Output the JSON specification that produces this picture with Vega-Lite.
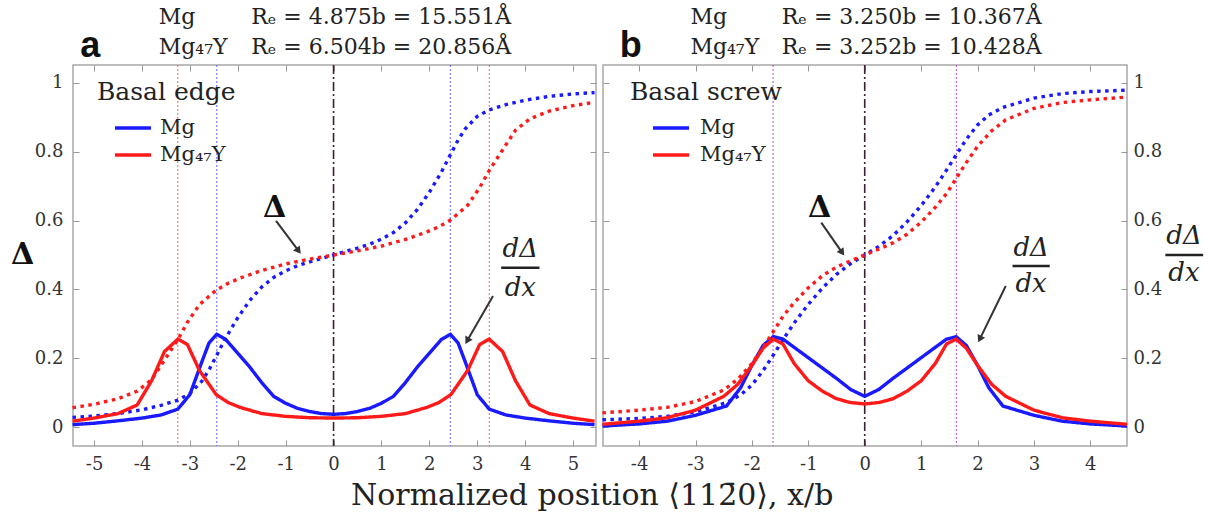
{
  "$schema": "https://vega.github.io/schema/vega-lite/v6.json",
  "padding": {"left": 10, "top": 5, "right": 5, "bottom": 5},
  "background": "white",
  "bounds": "flush",
  "spacing": 7,
  "config": {
    "view": {"stroke": "#a8a8a8", "strokeWidth": 1.5},
    "axis": {"domain": false, "grid": false, "tickSize": -6, "tickColor": "#9a9a9a", "tickWidth": 1, "labelFont": "DejaVu Serif", "labelFontSize": 18, "labelColor": "#333333"},
    "legend": {"padding": 0}
  },
  "datasets": {
    "curves": [
      {"panel":"a","alloy":"Mg","qty":"Δ","x":-5.45,"y":0.029},{"panel":"a","alloy":"Mg","qty":"Δ","x":-5,"y":0.033},{"panel":"a","alloy":"Mg","qty":"Δ","x":-4.5,"y":0.040},{"panel":"a","alloy":"Mg","qty":"Δ","x":-4,"y":0.051},{"panel":"a","alloy":"Mg","qty":"Δ","x":-3.6,"y":0.064},{"panel":"a","alloy":"Mg","qty":"Δ","x":-3.25,"y":0.079},{"panel":"a","alloy":"Mg","qty":"Δ","x":-3,"y":0.098},{"panel":"a","alloy":"Mg","qty":"Δ","x":-2.75,"y":0.134},{"panel":"a","alloy":"Mg","qty":"Δ","x":-2.6,"y":0.167},{"panel":"a","alloy":"Mg","qty":"Δ","x":-2.44,"y":0.209},{"panel":"a","alloy":"Mg","qty":"Δ","x":-2.25,"y":0.26},{"panel":"a","alloy":"Mg","qty":"Δ","x":-2,"y":0.318},{"panel":"a","alloy":"Mg","qty":"Δ","x":-1.75,"y":0.368},{"panel":"a","alloy":"Mg","qty":"Δ","x":-1.5,"y":0.407},{"panel":"a","alloy":"Mg","qty":"Δ","x":-1.25,"y":0.435},{"panel":"a","alloy":"Mg","qty":"Δ","x":-1,"y":0.454},{"panel":"a","alloy":"Mg","qty":"Δ","x":-0.75,"y":0.469},{"panel":"a","alloy":"Mg","qty":"Δ","x":-0.5,"y":0.48},{"panel":"a","alloy":"Mg","qty":"Δ","x":-0.25,"y":0.49},{"panel":"a","alloy":"Mg","qty":"Δ","x":0,"y":0.5},{"panel":"a","alloy":"Mg","qty":"Δ","x":0.25,"y":0.51},{"panel":"a","alloy":"Mg","qty":"Δ","x":0.5,"y":0.52},{"panel":"a","alloy":"Mg","qty":"Δ","x":0.75,"y":0.531},{"panel":"a","alloy":"Mg","qty":"Δ","x":1,"y":0.546},{"panel":"a","alloy":"Mg","qty":"Δ","x":1.25,"y":0.565},{"panel":"a","alloy":"Mg","qty":"Δ","x":1.5,"y":0.593},{"panel":"a","alloy":"Mg","qty":"Δ","x":1.75,"y":0.632},{"panel":"a","alloy":"Mg","qty":"Δ","x":2,"y":0.682},{"panel":"a","alloy":"Mg","qty":"Δ","x":2.25,"y":0.74},{"panel":"a","alloy":"Mg","qty":"Δ","x":2.44,"y":0.791},{"panel":"a","alloy":"Mg","qty":"Δ","x":2.6,"y":0.833},{"panel":"a","alloy":"Mg","qty":"Δ","x":2.75,"y":0.866},{"panel":"a","alloy":"Mg","qty":"Δ","x":3,"y":0.902},{"panel":"a","alloy":"Mg","qty":"Δ","x":3.25,"y":0.921},{"panel":"a","alloy":"Mg","qty":"Δ","x":3.6,"y":0.936},{"panel":"a","alloy":"Mg","qty":"Δ","x":4,"y":0.949},{"panel":"a","alloy":"Mg","qty":"Δ","x":4.5,"y":0.96},{"panel":"a","alloy":"Mg","qty":"Δ","x":5,"y":0.967},{"panel":"a","alloy":"Mg","qty":"Δ","x":5.45,"y":0.971},
      {"panel":"a","alloy":"Mg","qty":"dΔ/dx","x":-5.45,"y":0.008},{"panel":"a","alloy":"Mg","qty":"dΔ/dx","x":-5,"y":0.012},{"panel":"a","alloy":"Mg","qty":"dΔ/dx","x":-4.5,"y":0.019},{"panel":"a","alloy":"Mg","qty":"dΔ/dx","x":-4,"y":0.027},{"panel":"a","alloy":"Mg","qty":"dΔ/dx","x":-3.6,"y":0.036},{"panel":"a","alloy":"Mg","qty":"dΔ/dx","x":-3.25,"y":0.053},{"panel":"a","alloy":"Mg","qty":"dΔ/dx","x":-3,"y":0.095},{"panel":"a","alloy":"Mg","qty":"dΔ/dx","x":-2.75,"y":0.19},{"panel":"a","alloy":"Mg","qty":"dΔ/dx","x":-2.6,"y":0.245},{"panel":"a","alloy":"Mg","qty":"dΔ/dx","x":-2.44,"y":0.27},{"panel":"a","alloy":"Mg","qty":"dΔ/dx","x":-2.25,"y":0.255},{"panel":"a","alloy":"Mg","qty":"dΔ/dx","x":-2,"y":0.215},{"panel":"a","alloy":"Mg","qty":"dΔ/dx","x":-1.75,"y":0.175},{"panel":"a","alloy":"Mg","qty":"dΔ/dx","x":-1.5,"y":0.13},{"panel":"a","alloy":"Mg","qty":"dΔ/dx","x":-1.25,"y":0.09},{"panel":"a","alloy":"Mg","qty":"dΔ/dx","x":-1,"y":0.07},{"panel":"a","alloy":"Mg","qty":"dΔ/dx","x":-0.75,"y":0.055},{"panel":"a","alloy":"Mg","qty":"dΔ/dx","x":-0.5,"y":0.046},{"panel":"a","alloy":"Mg","qty":"dΔ/dx","x":-0.25,"y":0.04},{"panel":"a","alloy":"Mg","qty":"dΔ/dx","x":0,"y":0.038},{"panel":"a","alloy":"Mg","qty":"dΔ/dx","x":0.25,"y":0.04},{"panel":"a","alloy":"Mg","qty":"dΔ/dx","x":0.5,"y":0.046},{"panel":"a","alloy":"Mg","qty":"dΔ/dx","x":0.75,"y":0.055},{"panel":"a","alloy":"Mg","qty":"dΔ/dx","x":1,"y":0.07},{"panel":"a","alloy":"Mg","qty":"dΔ/dx","x":1.25,"y":0.09},{"panel":"a","alloy":"Mg","qty":"dΔ/dx","x":1.5,"y":0.13},{"panel":"a","alloy":"Mg","qty":"dΔ/dx","x":1.75,"y":0.175},{"panel":"a","alloy":"Mg","qty":"dΔ/dx","x":2,"y":0.215},{"panel":"a","alloy":"Mg","qty":"dΔ/dx","x":2.25,"y":0.255},{"panel":"a","alloy":"Mg","qty":"dΔ/dx","x":2.44,"y":0.27},{"panel":"a","alloy":"Mg","qty":"dΔ/dx","x":2.6,"y":0.245},{"panel":"a","alloy":"Mg","qty":"dΔ/dx","x":2.75,"y":0.19},{"panel":"a","alloy":"Mg","qty":"dΔ/dx","x":3,"y":0.095},{"panel":"a","alloy":"Mg","qty":"dΔ/dx","x":3.25,"y":0.053},{"panel":"a","alloy":"Mg","qty":"dΔ/dx","x":3.6,"y":0.036},{"panel":"a","alloy":"Mg","qty":"dΔ/dx","x":4,"y":0.027},{"panel":"a","alloy":"Mg","qty":"dΔ/dx","x":4.5,"y":0.019},{"panel":"a","alloy":"Mg","qty":"dΔ/dx","x":5,"y":0.012},{"panel":"a","alloy":"Mg","qty":"dΔ/dx","x":5.45,"y":0.008},
      {"panel":"a","alloy":"Mg₄₇Y","qty":"Δ","x":-5.45,"y":0.057},{"panel":"a","alloy":"Mg₄₇Y","qty":"Δ","x":-5,"y":0.067},{"panel":"a","alloy":"Mg₄₇Y","qty":"Δ","x":-4.5,"y":0.083},{"panel":"a","alloy":"Mg₄₇Y","qty":"Δ","x":-4.1,"y":0.105},{"panel":"a","alloy":"Mg₄₇Y","qty":"Δ","x":-3.8,"y":0.138},{"panel":"a","alloy":"Mg₄₇Y","qty":"Δ","x":-3.53,"y":0.195},{"panel":"a","alloy":"Mg₄₇Y","qty":"Δ","x":-3.25,"y":0.255},{"panel":"a","alloy":"Mg₄₇Y","qty":"Δ","x":-3.05,"y":0.305},{"panel":"a","alloy":"Mg₄₇Y","qty":"Δ","x":-2.8,"y":0.356},{"panel":"a","alloy":"Mg₄₇Y","qty":"Δ","x":-2.45,"y":0.398},{"panel":"a","alloy":"Mg₄₇Y","qty":"Δ","x":-2.2,"y":0.418},{"panel":"a","alloy":"Mg₄₇Y","qty":"Δ","x":-1.95,"y":0.433},{"panel":"a","alloy":"Mg₄₇Y","qty":"Δ","x":-1.5,"y":0.455},{"panel":"a","alloy":"Mg₄₇Y","qty":"Δ","x":-1,"y":0.474},{"panel":"a","alloy":"Mg₄₇Y","qty":"Δ","x":-0.5,"y":0.488},{"panel":"a","alloy":"Mg₄₇Y","qty":"Δ","x":0,"y":0.5},{"panel":"a","alloy":"Mg₄₇Y","qty":"Δ","x":0.5,"y":0.512},{"panel":"a","alloy":"Mg₄₇Y","qty":"Δ","x":1,"y":0.526},{"panel":"a","alloy":"Mg₄₇Y","qty":"Δ","x":1.5,"y":0.545},{"panel":"a","alloy":"Mg₄₇Y","qty":"Δ","x":1.95,"y":0.567},{"panel":"a","alloy":"Mg₄₇Y","qty":"Δ","x":2.2,"y":0.582},{"panel":"a","alloy":"Mg₄₇Y","qty":"Δ","x":2.45,"y":0.602},{"panel":"a","alloy":"Mg₄₇Y","qty":"Δ","x":2.8,"y":0.644},{"panel":"a","alloy":"Mg₄₇Y","qty":"Δ","x":3.05,"y":0.695},{"panel":"a","alloy":"Mg₄₇Y","qty":"Δ","x":3.25,"y":0.745},{"panel":"a","alloy":"Mg₄₇Y","qty":"Δ","x":3.53,"y":0.805},{"panel":"a","alloy":"Mg₄₇Y","qty":"Δ","x":3.8,"y":0.862},{"panel":"a","alloy":"Mg₄₇Y","qty":"Δ","x":4.1,"y":0.895},{"panel":"a","alloy":"Mg₄₇Y","qty":"Δ","x":4.5,"y":0.917},{"panel":"a","alloy":"Mg₄₇Y","qty":"Δ","x":5,"y":0.933},{"panel":"a","alloy":"Mg₄₇Y","qty":"Δ","x":5.45,"y":0.943},
      {"panel":"a","alloy":"Mg₄₇Y","qty":"dΔ/dx","x":-5.45,"y":0.018},{"panel":"a","alloy":"Mg₄₇Y","qty":"dΔ/dx","x":-5,"y":0.027},{"panel":"a","alloy":"Mg₄₇Y","qty":"dΔ/dx","x":-4.5,"y":0.04},{"panel":"a","alloy":"Mg₄₇Y","qty":"dΔ/dx","x":-4.1,"y":0.065},{"panel":"a","alloy":"Mg₄₇Y","qty":"dΔ/dx","x":-3.8,"y":0.135},{"panel":"a","alloy":"Mg₄₇Y","qty":"dΔ/dx","x":-3.53,"y":0.22},{"panel":"a","alloy":"Mg₄₇Y","qty":"dΔ/dx","x":-3.25,"y":0.256},{"panel":"a","alloy":"Mg₄₇Y","qty":"dΔ/dx","x":-3.05,"y":0.24},{"panel":"a","alloy":"Mg₄₇Y","qty":"dΔ/dx","x":-2.8,"y":0.165},{"panel":"a","alloy":"Mg₄₇Y","qty":"dΔ/dx","x":-2.45,"y":0.095},{"panel":"a","alloy":"Mg₄₇Y","qty":"dΔ/dx","x":-2.2,"y":0.072},{"panel":"a","alloy":"Mg₄₇Y","qty":"dΔ/dx","x":-1.95,"y":0.058},{"panel":"a","alloy":"Mg₄₇Y","qty":"dΔ/dx","x":-1.5,"y":0.04},{"panel":"a","alloy":"Mg₄₇Y","qty":"dΔ/dx","x":-1,"y":0.032},{"panel":"a","alloy":"Mg₄₇Y","qty":"dΔ/dx","x":-0.5,"y":0.028},{"panel":"a","alloy":"Mg₄₇Y","qty":"dΔ/dx","x":0,"y":0.027},{"panel":"a","alloy":"Mg₄₇Y","qty":"dΔ/dx","x":0.5,"y":0.028},{"panel":"a","alloy":"Mg₄₇Y","qty":"dΔ/dx","x":1,"y":0.032},{"panel":"a","alloy":"Mg₄₇Y","qty":"dΔ/dx","x":1.5,"y":0.04},{"panel":"a","alloy":"Mg₄₇Y","qty":"dΔ/dx","x":1.95,"y":0.058},{"panel":"a","alloy":"Mg₄₇Y","qty":"dΔ/dx","x":2.2,"y":0.072},{"panel":"a","alloy":"Mg₄₇Y","qty":"dΔ/dx","x":2.45,"y":0.095},{"panel":"a","alloy":"Mg₄₇Y","qty":"dΔ/dx","x":2.8,"y":0.165},{"panel":"a","alloy":"Mg₄₇Y","qty":"dΔ/dx","x":3.05,"y":0.24},{"panel":"a","alloy":"Mg₄₇Y","qty":"dΔ/dx","x":3.25,"y":0.256},{"panel":"a","alloy":"Mg₄₇Y","qty":"dΔ/dx","x":3.53,"y":0.22},{"panel":"a","alloy":"Mg₄₇Y","qty":"dΔ/dx","x":3.8,"y":0.135},{"panel":"a","alloy":"Mg₄₇Y","qty":"dΔ/dx","x":4.1,"y":0.065},{"panel":"a","alloy":"Mg₄₇Y","qty":"dΔ/dx","x":4.5,"y":0.04},{"panel":"a","alloy":"Mg₄₇Y","qty":"dΔ/dx","x":5,"y":0.027},{"panel":"a","alloy":"Mg₄₇Y","qty":"dΔ/dx","x":5.45,"y":0.018},
      {"panel":"b","alloy":"Mg","qty":"Δ","x":-4.65,"y":0.022},{"panel":"b","alloy":"Mg","qty":"Δ","x":-4,"y":0.026},{"panel":"b","alloy":"Mg","qty":"Δ","x":-3.5,"y":0.032},{"panel":"b","alloy":"Mg","qty":"Δ","x":-3,"y":0.045},{"panel":"b","alloy":"Mg","qty":"Δ","x":-2.45,"y":0.072},{"panel":"b","alloy":"Mg","qty":"Δ","x":-2.2,"y":0.094},{"panel":"b","alloy":"Mg","qty":"Δ","x":-2,"y":0.123},{"panel":"b","alloy":"Mg","qty":"Δ","x":-1.8,"y":0.165},{"panel":"b","alloy":"Mg","qty":"Δ","x":-1.62,"y":0.21},{"panel":"b","alloy":"Mg","qty":"Δ","x":-1.45,"y":0.254},{"panel":"b","alloy":"Mg","qty":"Δ","x":-1.25,"y":0.303},{"panel":"b","alloy":"Mg","qty":"Δ","x":-1,"y":0.357},{"panel":"b","alloy":"Mg","qty":"Δ","x":-0.75,"y":0.404},{"panel":"b","alloy":"Mg","qty":"Δ","x":-0.5,"y":0.444},{"panel":"b","alloy":"Mg","qty":"Δ","x":-0.25,"y":0.475},{"panel":"b","alloy":"Mg","qty":"Δ","x":0,"y":0.5},{"panel":"b","alloy":"Mg","qty":"Δ","x":0.25,"y":0.525},{"panel":"b","alloy":"Mg","qty":"Δ","x":0.5,"y":0.556},{"panel":"b","alloy":"Mg","qty":"Δ","x":0.75,"y":0.596},{"panel":"b","alloy":"Mg","qty":"Δ","x":1,"y":0.643},{"panel":"b","alloy":"Mg","qty":"Δ","x":1.25,"y":0.697},{"panel":"b","alloy":"Mg","qty":"Δ","x":1.45,"y":0.746},{"panel":"b","alloy":"Mg","qty":"Δ","x":1.62,"y":0.79},{"panel":"b","alloy":"Mg","qty":"Δ","x":1.8,"y":0.835},{"panel":"b","alloy":"Mg","qty":"Δ","x":2,"y":0.877},{"panel":"b","alloy":"Mg","qty":"Δ","x":2.2,"y":0.906},{"panel":"b","alloy":"Mg","qty":"Δ","x":2.45,"y":0.928},{"panel":"b","alloy":"Mg","qty":"Δ","x":3,"y":0.955},{"panel":"b","alloy":"Mg","qty":"Δ","x":3.5,"y":0.968},{"panel":"b","alloy":"Mg","qty":"Δ","x":4,"y":0.974},{"panel":"b","alloy":"Mg","qty":"Δ","x":4.65,"y":0.978},
      {"panel":"b","alloy":"Mg","qty":"dΔ/dx","x":-4.65,"y":0.004},{"panel":"b","alloy":"Mg","qty":"dΔ/dx","x":-4,"y":0.01},{"panel":"b","alloy":"Mg","qty":"dΔ/dx","x":-3.5,"y":0.018},{"panel":"b","alloy":"Mg","qty":"dΔ/dx","x":-3,"y":0.035},{"panel":"b","alloy":"Mg","qty":"dΔ/dx","x":-2.45,"y":0.062},{"panel":"b","alloy":"Mg","qty":"dΔ/dx","x":-2.2,"y":0.115},{"panel":"b","alloy":"Mg","qty":"dΔ/dx","x":-2,"y":0.18},{"panel":"b","alloy":"Mg","qty":"dΔ/dx","x":-1.8,"y":0.238},{"panel":"b","alloy":"Mg","qty":"dΔ/dx","x":-1.62,"y":0.263},{"panel":"b","alloy":"Mg","qty":"dΔ/dx","x":-1.45,"y":0.256},{"panel":"b","alloy":"Mg","qty":"dΔ/dx","x":-1.25,"y":0.232},{"panel":"b","alloy":"Mg","qty":"dΔ/dx","x":-1,"y":0.202},{"panel":"b","alloy":"Mg","qty":"dΔ/dx","x":-0.75,"y":0.172},{"panel":"b","alloy":"Mg","qty":"dΔ/dx","x":-0.5,"y":0.142},{"panel":"b","alloy":"Mg","qty":"dΔ/dx","x":-0.25,"y":0.11},{"panel":"b","alloy":"Mg","qty":"dΔ/dx","x":0,"y":0.09},{"panel":"b","alloy":"Mg","qty":"dΔ/dx","x":0.25,"y":0.11},{"panel":"b","alloy":"Mg","qty":"dΔ/dx","x":0.5,"y":0.142},{"panel":"b","alloy":"Mg","qty":"dΔ/dx","x":0.75,"y":0.172},{"panel":"b","alloy":"Mg","qty":"dΔ/dx","x":1,"y":0.202},{"panel":"b","alloy":"Mg","qty":"dΔ/dx","x":1.25,"y":0.232},{"panel":"b","alloy":"Mg","qty":"dΔ/dx","x":1.45,"y":0.256},{"panel":"b","alloy":"Mg","qty":"dΔ/dx","x":1.62,"y":0.263},{"panel":"b","alloy":"Mg","qty":"dΔ/dx","x":1.8,"y":0.238},{"panel":"b","alloy":"Mg","qty":"dΔ/dx","x":2,"y":0.18},{"panel":"b","alloy":"Mg","qty":"dΔ/dx","x":2.2,"y":0.115},{"panel":"b","alloy":"Mg","qty":"dΔ/dx","x":2.45,"y":0.062},{"panel":"b","alloy":"Mg","qty":"dΔ/dx","x":3,"y":0.035},{"panel":"b","alloy":"Mg","qty":"dΔ/dx","x":3.5,"y":0.018},{"panel":"b","alloy":"Mg","qty":"dΔ/dx","x":4,"y":0.01},{"panel":"b","alloy":"Mg","qty":"dΔ/dx","x":4.65,"y":0.004},
      {"panel":"b","alloy":"Mg₄₇Y","qty":"Δ","x":-4.65,"y":0.042},{"panel":"b","alloy":"Mg₄₇Y","qty":"Δ","x":-4,"y":0.05},{"panel":"b","alloy":"Mg₄₇Y","qty":"Δ","x":-3.5,"y":0.058},{"panel":"b","alloy":"Mg₄₇Y","qty":"Δ","x":-3,"y":0.075},{"panel":"b","alloy":"Mg₄₇Y","qty":"Δ","x":-2.5,"y":0.108},{"panel":"b","alloy":"Mg₄₇Y","qty":"Δ","x":-2.25,"y":0.14},{"panel":"b","alloy":"Mg₄₇Y","qty":"Δ","x":-2,"y":0.185},{"panel":"b","alloy":"Mg₄₇Y","qty":"Δ","x":-1.8,"y":0.232},{"panel":"b","alloy":"Mg₄₇Y","qty":"Δ","x":-1.62,"y":0.278},{"panel":"b","alloy":"Mg₄₇Y","qty":"Δ","x":-1.45,"y":0.322},{"panel":"b","alloy":"Mg₄₇Y","qty":"Δ","x":-1.25,"y":0.362},{"panel":"b","alloy":"Mg₄₇Y","qty":"Δ","x":-1,"y":0.405},{"panel":"b","alloy":"Mg₄₇Y","qty":"Δ","x":-0.75,"y":0.44},{"panel":"b","alloy":"Mg₄₇Y","qty":"Δ","x":-0.5,"y":0.465},{"panel":"b","alloy":"Mg₄₇Y","qty":"Δ","x":-0.25,"y":0.483},{"panel":"b","alloy":"Mg₄₇Y","qty":"Δ","x":0,"y":0.5},{"panel":"b","alloy":"Mg₄₇Y","qty":"Δ","x":0.25,"y":0.517},{"panel":"b","alloy":"Mg₄₇Y","qty":"Δ","x":0.5,"y":0.535},{"panel":"b","alloy":"Mg₄₇Y","qty":"Δ","x":0.75,"y":0.56},{"panel":"b","alloy":"Mg₄₇Y","qty":"Δ","x":1,"y":0.595},{"panel":"b","alloy":"Mg₄₇Y","qty":"Δ","x":1.25,"y":0.638},{"panel":"b","alloy":"Mg₄₇Y","qty":"Δ","x":1.45,"y":0.678},{"panel":"b","alloy":"Mg₄₇Y","qty":"Δ","x":1.62,"y":0.722},{"panel":"b","alloy":"Mg₄₇Y","qty":"Δ","x":1.8,"y":0.768},{"panel":"b","alloy":"Mg₄₇Y","qty":"Δ","x":2,"y":0.815},{"panel":"b","alloy":"Mg₄₇Y","qty":"Δ","x":2.25,"y":0.86},{"panel":"b","alloy":"Mg₄₇Y","qty":"Δ","x":2.5,"y":0.892},{"panel":"b","alloy":"Mg₄₇Y","qty":"Δ","x":3,"y":0.925},{"panel":"b","alloy":"Mg₄₇Y","qty":"Δ","x":3.5,"y":0.942},{"panel":"b","alloy":"Mg₄₇Y","qty":"Δ","x":4,"y":0.95},{"panel":"b","alloy":"Mg₄₇Y","qty":"Δ","x":4.65,"y":0.958},
      {"panel":"b","alloy":"Mg₄₇Y","qty":"dΔ/dx","x":-4.65,"y":0.009},{"panel":"b","alloy":"Mg₄₇Y","qty":"dΔ/dx","x":-4,"y":0.018},{"panel":"b","alloy":"Mg₄₇Y","qty":"dΔ/dx","x":-3.5,"y":0.028},{"panel":"b","alloy":"Mg₄₇Y","qty":"dΔ/dx","x":-3,"y":0.05},{"panel":"b","alloy":"Mg₄₇Y","qty":"dΔ/dx","x":-2.5,"y":0.09},{"panel":"b","alloy":"Mg₄₇Y","qty":"dΔ/dx","x":-2.25,"y":0.125},{"panel":"b","alloy":"Mg₄₇Y","qty":"dΔ/dx","x":-2,"y":0.18},{"panel":"b","alloy":"Mg₄₇Y","qty":"dΔ/dx","x":-1.8,"y":0.23},{"panel":"b","alloy":"Mg₄₇Y","qty":"dΔ/dx","x":-1.62,"y":0.256},{"panel":"b","alloy":"Mg₄₇Y","qty":"dΔ/dx","x":-1.45,"y":0.242},{"panel":"b","alloy":"Mg₄₇Y","qty":"dΔ/dx","x":-1.25,"y":0.185},{"panel":"b","alloy":"Mg₄₇Y","qty":"dΔ/dx","x":-1,"y":0.135},{"panel":"b","alloy":"Mg₄₇Y","qty":"dΔ/dx","x":-0.75,"y":0.105},{"panel":"b","alloy":"Mg₄₇Y","qty":"dΔ/dx","x":-0.5,"y":0.083},{"panel":"b","alloy":"Mg₄₇Y","qty":"dΔ/dx","x":-0.25,"y":0.072},{"panel":"b","alloy":"Mg₄₇Y","qty":"dΔ/dx","x":0,"y":0.068},{"panel":"b","alloy":"Mg₄₇Y","qty":"dΔ/dx","x":0.25,"y":0.072},{"panel":"b","alloy":"Mg₄₇Y","qty":"dΔ/dx","x":0.5,"y":0.083},{"panel":"b","alloy":"Mg₄₇Y","qty":"dΔ/dx","x":0.75,"y":0.105},{"panel":"b","alloy":"Mg₄₇Y","qty":"dΔ/dx","x":1,"y":0.135},{"panel":"b","alloy":"Mg₄₇Y","qty":"dΔ/dx","x":1.25,"y":0.185},{"panel":"b","alloy":"Mg₄₇Y","qty":"dΔ/dx","x":1.45,"y":0.242},{"panel":"b","alloy":"Mg₄₇Y","qty":"dΔ/dx","x":1.62,"y":0.256},{"panel":"b","alloy":"Mg₄₇Y","qty":"dΔ/dx","x":1.8,"y":0.23},{"panel":"b","alloy":"Mg₄₇Y","qty":"dΔ/dx","x":2,"y":0.18},{"panel":"b","alloy":"Mg₄₇Y","qty":"dΔ/dx","x":2.25,"y":0.125},{"panel":"b","alloy":"Mg₄₇Y","qty":"dΔ/dx","x":2.5,"y":0.09},{"panel":"b","alloy":"Mg₄₇Y","qty":"dΔ/dx","x":3,"y":0.05},{"panel":"b","alloy":"Mg₄₇Y","qty":"dΔ/dx","x":3.5,"y":0.028},{"panel":"b","alloy":"Mg₄₇Y","qty":"dΔ/dx","x":4,"y":0.018},{"panel":"b","alloy":"Mg₄₇Y","qty":"dΔ/dx","x":4.65,"y":0.009}
    ],
    "refs": [
      {"panel":"a","kind":"Mg₄₇Y","x":-3.252},{"panel":"a","kind":"Mg₄₇Y","x":3.252},
      {"panel":"a","kind":"Mg","x":-2.4375},{"panel":"a","kind":"Mg","x":2.4375},
      {"panel":"a","kind":"center","x":0},
      {"panel":"b","kind":"both","x":-1.625},{"panel":"b","kind":"both","x":1.625},
      {"panel":"b","kind":"center","x":0}
    ],
    "notes": [
      {"panel":"a","role":"tag","text":"a","x":-5.08,"y":1.106},
      {"panel":"a","role":"hdr","text":"Mg","x":-3.65,"y":1.19},
      {"panel":"a","role":"hdr","text":"Rₑ = 4.875b = 15.551Å","x":-1.72,"y":1.19},
      {"panel":"a","role":"hdr","text":"Mg₄₇Y","x":-3.65,"y":1.104},
      {"panel":"a","role":"hdr","text":"Rₑ = 6.504b = 20.856Å","x":-1.72,"y":1.104},
      {"panel":"a","role":"sym","text":"Δ","x":-6.49,"y":0.5},
      {"panel":"a","role":"sym","text":"Δ","x":-1.23,"y":0.637},
      {"panel":"a","role":"frac","text":"dΔ","x":3.9,"y":0.517},
      {"panel":"a","role":"frac","text":"dx","x":3.9,"y":0.405},
      {"panel":"a","role":"xt","text":"Normalized position ⟨112̄0⟩, x/b","x":5.4,"y":-0.2},
      {"panel":"b","role":"tag","text":"b","x":-4.15,"y":1.106},
      {"panel":"b","role":"hdr","text":"Mg","x":-3.09,"y":1.19},
      {"panel":"b","role":"hdr","text":"Rₑ = 3.250b = 10.367Å","x":-1.47,"y":1.19},
      {"panel":"b","role":"hdr","text":"Mg₄₇Y","x":-3.09,"y":1.104},
      {"panel":"b","role":"hdr","text":"Rₑ = 3.252b = 10.428Å","x":-1.47,"y":1.104},
      {"panel":"b","role":"sym","text":"Δ","x":-0.8,"y":0.637},
      {"panel":"b","role":"frac","text":"dΔ","x":2.95,"y":0.521},
      {"panel":"b","role":"frac","text":"dx","x":2.95,"y":0.415},
      {"panel":"b","role":"frac","text":"dΔ","x":5.66,"y":0.555},
      {"panel":"b","role":"frac","text":"dx","x":5.66,"y":0.448}
    ],
    "bars": [
      {"panel":"a","x":3.5,"x2":4.3,"y":0.463},
      {"panel":"b","x":2.62,"x2":3.28,"y":0.468},
      {"panel":"b","x":5.33,"x2":6.0,"y":0.5}
    ],
    "arrows": [
      {"panel":"a","x":-1.2,"y":0.599,"x2":-0.73,"y2":0.512,"heading":143},
      {"panel":"a","x":3.33,"y":0.381,"x2":2.79,"y2":0.251,"heading":210},
      {"panel":"b","x":-0.77,"y":0.594,"x2":-0.4,"y2":0.507,"heading":145},
      {"panel":"b","x":2.5,"y":0.41,"x2":2.04,"y2":0.256,"heading":206}
    ]
  },
  "resolve": {"scale": {"color": "independent", "strokeDash": "independent"}, "legend": {"color": "independent", "strokeDash": "independent"}},
  "hconcat": [
    {
      "width": 523, "height": 381,
      "resolve": {"axis": {"x": "independent", "y": "independent"}},
      "layer": [
        {"data": {"name": "refs"}, "transform": [{"filter": "datum.panel === 'a' && datum.kind === 'Mg₄₇Y'"}],
         "mark": {"type": "rule", "color": "#ff5c5c", "strokeWidth": 1, "strokeDash": [2, 2]},
         "encoding": {"x": {"field": "x", "type": "quantitative", "scale": {"domain": [-5.44, 5.48], "nice": false, "zero": false}, "axis": null}}},
        {"data": {"name": "refs"}, "transform": [{"filter": "datum.panel === 'a' && datum.kind === 'Mg'"}],
         "mark": {"type": "rule", "color": "#6464ff", "strokeWidth": 1, "strokeDash": [2, 2]},
         "encoding": {"x": {"field": "x", "type": "quantitative", "scale": {"domain": [-5.44, 5.48], "nice": false, "zero": false}, "axis": null}}},
        {"data": {"name": "refs"}, "transform": [{"filter": "datum.panel === 'a' && datum.kind === 'center'"}],
         "mark": {"type": "rule", "color": "#3b1f33", "strokeWidth": 1.6, "strokeDash": [9, 3, 2, 3]},
         "encoding": {"x": {"field": "x", "type": "quantitative", "scale": {"domain": [-5.44, 5.48], "nice": false, "zero": false}, "axis": null}}},
        {"data": {"name": "curves"}, "transform": [{"filter": "datum.panel === 'a'"}],
         "mark": {"type": "line", "strokeWidth": 3.4, "strokeCap": "butt"},
         "encoding": {
           "x": {"field": "x", "type": "quantitative", "scale": {"domain": [-5.44, 5.48], "nice": false, "zero": false},
                 "axis": {"orient": "bottom", "values": [-5, -4, -3, -2, -1, 0, 1, 2, 3, 4, 5], "labelExpr": "'' + datum.value", "labelPadding": 15, "title": null}},
           "y": {"field": "y", "type": "quantitative", "scale": {"domain": [-0.054, 1.051], "nice": false, "zero": false},
                 "axis": {"orient": "left", "values": [0, 0.2, 0.4, 0.6, 0.8, 1], "labelExpr": "'' + datum.value", "labelPadding": 16, "title": null}},
           "color": {"field": "alloy", "type": "nominal", "scale": {"domain": ["Mg", "Mg₄₇Y"], "range": ["#1a1aff", "#ff1a1a"]},
                     "legend": {"title": "Basal edge", "orient": "none", "legendX": 24, "legendY": 15, "symbolType": "M-1.5,0H1.5", "symbolSize": 576, "symbolStrokeWidth": 3.5, "symbolOffset": 22, "labelOffset": 13, "titleFont": "DejaVu Serif", "titleFontSize": 25, "titleFontWeight": "normal", "titleColor": "#222222", "titlePadding": 9, "labelFont": "DejaVu Serif", "labelFontSize": 21, "labelColor": "#222222", "rowPadding": 3}},
           "strokeDash": {"field": "qty", "type": "nominal", "scale": {"domain": ["Δ", "dΔ/dx"], "range": [[3.5, 4.5], [1, 0]]}, "legend": null}
         }},
        {"data": {"name": "bars"}, "transform": [{"filter": "datum.panel === 'a'"}],
         "mark": {"type": "rule", "color": "#222222", "strokeWidth": 2.5},
         "encoding": {"x": {"field": "x", "type": "quantitative", "scale": {"domain": [-5.44, 5.48], "nice": false, "zero": false}, "axis": null}, "x2": {"field": "x2"},
                      "y": {"field": "y", "type": "quantitative", "scale": {"domain": [-0.054, 1.051], "nice": false, "zero": false}, "axis": null}}},
        {"data": {"name": "arrows"}, "transform": [{"filter": "datum.panel === 'a'"}],
         "mark": {"type": "rule", "color": "#333333", "strokeWidth": 2},
         "encoding": {"x": {"field": "x", "type": "quantitative", "scale": {"domain": [-5.44, 5.48], "nice": false, "zero": false}, "axis": null}, "x2": {"field": "x2"},
                      "y": {"field": "y", "type": "quantitative", "scale": {"domain": [-0.054, 1.051], "nice": false, "zero": false}, "axis": null}, "y2": {"field": "y2"}}},
        {"data": {"name": "arrows"}, "transform": [{"filter": "datum.panel === 'a'"}],
         "mark": {"type": "point", "shape": "triangle-up", "filled": true, "color": "#333333", "size": 70, "opacity": 1},
         "encoding": {"x": {"field": "x2", "type": "quantitative", "scale": {"domain": [-5.44, 5.48], "nice": false, "zero": false}, "axis": null},
                      "y": {"field": "y2", "type": "quantitative", "scale": {"domain": [-0.054, 1.051], "nice": false, "zero": false}, "axis": null},
                      "angle": {"field": "heading", "type": "quantitative", "scale": null}}},
        {"data": {"name": "notes"}, "transform": [{"filter": "datum.panel === 'a' && datum.role === 'hdr'"}],
         "mark": {"type": "text", "font": "DejaVu Serif", "fontSize": 22, "align": "left", "baseline": "middle", "color": "#222222"},
         "encoding": {"x": {"field": "x", "type": "quantitative", "scale": {"domain": [-5.44, 5.48], "nice": false, "zero": false},
                            "axis": {"orient": "top", "values": [-5, -4, -3, -2, -1, 0, 1, 2, 3, 4, 5], "labels": false, "title": null}},
                      "y": {"field": "y", "type": "quantitative", "scale": {"domain": [-0.054, 1.051], "nice": false, "zero": false},
                            "axis": {"orient": "right", "values": [0, 0.2, 0.4, 0.6, 0.8, 1], "labels": false, "title": null}},
                      "text": {"field": "text"}}},
        {"data": {"name": "notes"}, "transform": [{"filter": "datum.panel === 'a' && datum.role === 'tag'"}],
         "mark": {"type": "text", "font": "Liberation Sans", "fontWeight": "bold", "fontSize": 36, "align": "center", "baseline": "middle", "color": "#111111"},
         "encoding": {"x": {"field": "x", "type": "quantitative", "scale": {"domain": [-5.44, 5.48], "nice": false, "zero": false}, "axis": null},
                      "y": {"field": "y", "type": "quantitative", "scale": {"domain": [-0.054, 1.051], "nice": false, "zero": false}, "axis": null},
                      "text": {"field": "text"}}},
        {"data": {"name": "notes"}, "transform": [{"filter": "datum.panel === 'a' && datum.role === 'sym'"}],
         "mark": {"type": "text", "font": "DejaVu Serif", "fontWeight": "bold", "fontSize": 30, "align": "center", "baseline": "middle", "color": "#111111"},
         "encoding": {"x": {"field": "x", "type": "quantitative", "scale": {"domain": [-5.44, 5.48], "nice": false, "zero": false}, "axis": null},
                      "y": {"field": "y", "type": "quantitative", "scale": {"domain": [-0.054, 1.051], "nice": false, "zero": false}, "axis": null},
                      "text": {"field": "text"}}},
        {"data": {"name": "notes"}, "transform": [{"filter": "datum.panel === 'a' && datum.role === 'frac'"}],
         "mark": {"type": "text", "font": "DejaVu Serif", "fontStyle": "italic", "fontSize": 26, "align": "center", "baseline": "middle", "color": "#222222"},
         "encoding": {"x": {"field": "x", "type": "quantitative", "scale": {"domain": [-5.44, 5.48], "nice": false, "zero": false}, "axis": null},
                      "y": {"field": "y", "type": "quantitative", "scale": {"domain": [-0.054, 1.051], "nice": false, "zero": false}, "axis": null},
                      "text": {"field": "text"}}},
        {"data": {"name": "notes"}, "transform": [{"filter": "datum.panel === 'a' && datum.role === 'xt'"}],
         "mark": {"type": "text", "font": "DejaVu Serif", "fontSize": 30, "align": "center", "baseline": "middle", "color": "#222222"},
         "encoding": {"x": {"field": "x", "type": "quantitative", "scale": {"domain": [-5.44, 5.48], "nice": false, "zero": false}, "axis": null},
                      "y": {"field": "y", "type": "quantitative", "scale": {"domain": [-0.054, 1.051], "nice": false, "zero": false}, "axis": null},
                      "text": {"field": "text"}}}
      ]
    },
    {
      "width": 524, "height": 381,
      "resolve": {"axis": {"x": "independent", "y": "independent"}},
      "layer": [
        {"data": {"name": "refs"}, "transform": [{"filter": "datum.panel === 'b' && datum.kind === 'both'"}],
         "mark": {"type": "rule", "color": "#b34fc4", "strokeWidth": 1, "strokeDash": [2, 2]},
         "encoding": {"x": {"field": "x", "type": "quantitative", "scale": {"domain": [-4.64, 4.65], "nice": false, "zero": false}, "axis": null}}},
        {"data": {"name": "refs"}, "transform": [{"filter": "datum.panel === 'b' && datum.kind === 'center'"}],
         "mark": {"type": "rule", "color": "#3b1f33", "strokeWidth": 1.6, "strokeDash": [9, 3, 2, 3]},
         "encoding": {"x": {"field": "x", "type": "quantitative", "scale": {"domain": [-4.64, 4.65], "nice": false, "zero": false}, "axis": null}}},
        {"data": {"name": "curves"}, "transform": [{"filter": "datum.panel === 'b'"}],
         "mark": {"type": "line", "strokeWidth": 3.4, "strokeCap": "butt"},
         "encoding": {
           "x": {"field": "x", "type": "quantitative", "scale": {"domain": [-4.64, 4.65], "nice": false, "zero": false},
                 "axis": {"orient": "bottom", "values": [-4, -3, -2, -1, 0, 1, 2, 3, 4], "labelExpr": "'' + datum.value", "labelPadding": 15, "title": null}},
           "y": {"field": "y", "type": "quantitative", "scale": {"domain": [-0.054, 1.051], "nice": false, "zero": false},
                 "axis": {"orient": "right", "values": [0, 0.2, 0.4, 0.6, 0.8, 1], "labelExpr": "'' + datum.value", "labelPadding": 12, "title": null}},
           "color": {"field": "alloy", "type": "nominal", "scale": {"domain": ["Mg", "Mg₄₇Y"], "range": ["#1a1aff", "#ff1a1a"]},
                     "legend": {"title": "Basal screw", "orient": "none", "legendX": 27, "legendY": 15, "symbolType": "M-1.5,0H1.5", "symbolSize": 576, "symbolStrokeWidth": 3.5, "symbolOffset": 27, "labelOffset": 15, "titleFont": "DejaVu Serif", "titleFontSize": 25, "titleFontWeight": "normal", "titleColor": "#222222", "titlePadding": 9, "labelFont": "DejaVu Serif", "labelFontSize": 21, "labelColor": "#222222", "rowPadding": 3}},
           "strokeDash": {"field": "qty", "type": "nominal", "scale": {"domain": ["Δ", "dΔ/dx"], "range": [[3.5, 4.5], [1, 0]]}, "legend": null}
         }},
        {"data": {"name": "bars"}, "transform": [{"filter": "datum.panel === 'b'"}],
         "mark": {"type": "rule", "color": "#222222", "strokeWidth": 2.5},
         "encoding": {"x": {"field": "x", "type": "quantitative", "scale": {"domain": [-4.64, 4.65], "nice": false, "zero": false}, "axis": null}, "x2": {"field": "x2"},
                      "y": {"field": "y", "type": "quantitative", "scale": {"domain": [-0.054, 1.051], "nice": false, "zero": false}, "axis": null}}},
        {"data": {"name": "arrows"}, "transform": [{"filter": "datum.panel === 'b'"}],
         "mark": {"type": "rule", "color": "#333333", "strokeWidth": 2},
         "encoding": {"x": {"field": "x", "type": "quantitative", "scale": {"domain": [-4.64, 4.65], "nice": false, "zero": false}, "axis": null}, "x2": {"field": "x2"},
                      "y": {"field": "y", "type": "quantitative", "scale": {"domain": [-0.054, 1.051], "nice": false, "zero": false}, "axis": null}, "y2": {"field": "y2"}}},
        {"data": {"name": "arrows"}, "transform": [{"filter": "datum.panel === 'b'"}],
         "mark": {"type": "point", "shape": "triangle-up", "filled": true, "color": "#333333", "size": 70, "opacity": 1},
         "encoding": {"x": {"field": "x2", "type": "quantitative", "scale": {"domain": [-4.64, 4.65], "nice": false, "zero": false}, "axis": null},
                      "y": {"field": "y2", "type": "quantitative", "scale": {"domain": [-0.054, 1.051], "nice": false, "zero": false}, "axis": null},
                      "angle": {"field": "heading", "type": "quantitative", "scale": null}}},
        {"data": {"name": "notes"}, "transform": [{"filter": "datum.panel === 'b' && datum.role === 'hdr'"}],
         "mark": {"type": "text", "font": "DejaVu Serif", "fontSize": 22, "align": "left", "baseline": "middle", "color": "#222222"},
         "encoding": {"x": {"field": "x", "type": "quantitative", "scale": {"domain": [-4.64, 4.65], "nice": false, "zero": false},
                            "axis": {"orient": "top", "values": [-4, -3, -2, -1, 0, 1, 2, 3, 4], "labels": false, "title": null}},
                      "y": {"field": "y", "type": "quantitative", "scale": {"domain": [-0.054, 1.051], "nice": false, "zero": false},
                            "axis": {"orient": "left", "values": [0, 0.2, 0.4, 0.6, 0.8, 1], "labels": false, "title": null}},
                      "text": {"field": "text"}}},
        {"data": {"name": "notes"}, "transform": [{"filter": "datum.panel === 'b' && datum.role === 'tag'"}],
         "mark": {"type": "text", "font": "Liberation Sans", "fontWeight": "bold", "fontSize": 36, "align": "center", "baseline": "middle", "color": "#111111"},
         "encoding": {"x": {"field": "x", "type": "quantitative", "scale": {"domain": [-4.64, 4.65], "nice": false, "zero": false}, "axis": null},
                      "y": {"field": "y", "type": "quantitative", "scale": {"domain": [-0.054, 1.051], "nice": false, "zero": false}, "axis": null},
                      "text": {"field": "text"}}},
        {"data": {"name": "notes"}, "transform": [{"filter": "datum.panel === 'b' && datum.role === 'sym'"}],
         "mark": {"type": "text", "font": "DejaVu Serif", "fontWeight": "bold", "fontSize": 30, "align": "center", "baseline": "middle", "color": "#111111"},
         "encoding": {"x": {"field": "x", "type": "quantitative", "scale": {"domain": [-4.64, 4.65], "nice": false, "zero": false}, "axis": null},
                      "y": {"field": "y", "type": "quantitative", "scale": {"domain": [-0.054, 1.051], "nice": false, "zero": false}, "axis": null},
                      "text": {"field": "text"}}},
        {"data": {"name": "notes"}, "transform": [{"filter": "datum.panel === 'b' && datum.role === 'frac'"}],
         "mark": {"type": "text", "font": "DejaVu Serif", "fontStyle": "italic", "fontSize": 26, "align": "center", "baseline": "middle", "color": "#222222"},
         "encoding": {"x": {"field": "x", "type": "quantitative", "scale": {"domain": [-4.64, 4.65], "nice": false, "zero": false}, "axis": null},
                      "y": {"field": "y", "type": "quantitative", "scale": {"domain": [-0.054, 1.051], "nice": false, "zero": false}, "axis": null},
                      "text": {"field": "text"}}}
      ]
    }
  ]
}
